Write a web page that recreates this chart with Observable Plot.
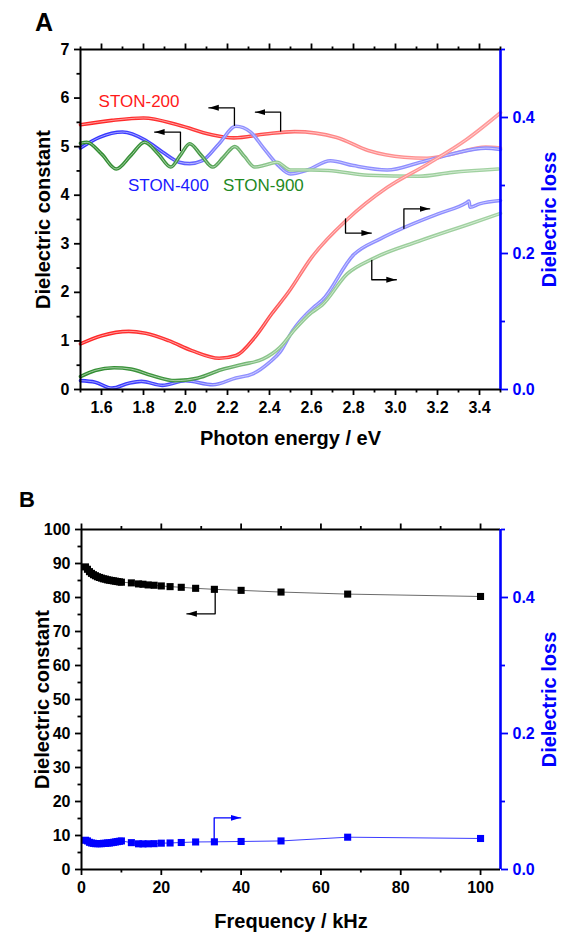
<!DOCTYPE html>
<html>
<head>
<meta charset="utf-8">
<script src="https://cdn.jsdelivr.net/npm/d3@7"></script>
<script src="https://cdn.jsdelivr.net/npm/@observablehq/plot@0.6"></script>
<style>
  body { margin: 0; background: #fff; font-family: Arial, "Liberation Sans", sans-serif; }
  #wrap { position: relative; width: 564px; height: 933px; overflow: hidden; }
  .panel { position: absolute; left: 0; }
  .panel svg { display: block; }
  .panel svg g[aria-label$="tick label"], .panel svg g[aria-label$="tick label"] text {
    font-size: 16px !important; font-weight: bold !important;
    font-family: Arial, "Liberation Sans", sans-serif !important;
  }
  .plabel { position: absolute; font-weight: bold; color: #000; line-height: 1; font-family: Arial, "Liberation Sans", sans-serif; }
</style>
</head>
<body>
<div id="wrap">
  <div id="pa" class="panel" style="top:0px"></div>
  <div id="pb" class="panel" style="top:465px"></div>
  <div class="plabel" style="left:35px;top:10px;font-size:25px">A</div>
  <div class="plabel" style="left:19px;top:489px;font-size:22px">B</div>
</div>
<script>
// ================= Panel A data (photon energy, eV) =================
// Dielectric constant (left axis)
const eConstR = [1.50,1.65,1.80,1.97,2.12,2.23,2.38,2.52,2.72,2.87,3.04,3.15,3.27,3.43,3.50];
const constR  = [5.45,5.54,5.59,5.44,5.25,5.18,5.26,5.31,5.19,4.92,4.78,4.76,4.85,4.99,4.97];
const eConstB = [1.50,1.59,1.70,1.81,1.89,1.97,2.02,2.08,2.16,2.24,2.31,2.37,2.44,2.50,2.58,2.69,2.80,2.96,3.12,3.27,3.43,3.50];
const constB  = [4.97,5.19,5.30,5.13,4.89,4.68,4.65,4.71,5.06,5.42,5.30,4.98,4.62,4.44,4.52,4.71,4.61,4.52,4.68,4.85,4.97,4.94];
const eConstG = [1.50,1.53,1.60,1.67,1.74,1.805,1.87,1.93,1.975,2.02,2.075,2.13,2.18,2.235,2.28,2.33,2.38,2.435,2.50,2.60,2.68,2.87,3.11,3.27,3.49];
const constG  = [5.07,5.09,4.85,4.54,4.82,5.09,4.85,4.58,4.82,5.06,4.82,4.58,4.78,5.00,4.80,4.58,4.62,4.68,4.52,4.52,4.51,4.41,4.39,4.47,4.54];
// Dielectric loss (right axis)
const eLossR = [1.50,1.60,1.73,1.81,1.92,2.03,2.16,2.24,2.33,2.41,2.49,2.60,2.77,2.96,3.15,3.34,3.50];
const lossR  = [0.067,0.079,0.0855,0.0826,0.0718,0.0572,0.0459,0.0499,0.0767,0.111,0.143,0.194,0.250,0.297,0.331,0.368,0.407];
const eLossB = [1.50,1.57,1.65,1.73,1.79,1.89,2.00,2.13,2.24,2.32,2.40,2.45,2.51,2.61,2.65,2.80,2.93,3.04,3.20,3.34,3.35,3.355,3.40,3.50];
const lossB  = [0.013,0.0107,0.002,0.0093,0.012,0.006,0.013,0.007,0.017,0.023,0.040,0.055,0.0865,0.121,0.131,0.198,0.222,0.238,0.258,0.275,0.277,0.268,0.273,0.278];
const eLossG = [1.50,1.57,1.66,1.74,1.84,1.95,2.06,2.17,2.27,2.37,2.45,2.52,2.60,2.65,2.77,2.89,3.11,3.35,3.50];
const lossG  = [0.019,0.028,0.032,0.030,0.0205,0.013,0.017,0.029,0.0367,0.045,0.062,0.088,0.113,0.124,0.170,0.192,0.218,0.243,0.259];

const seriesNamesA = ["STON-200","STON-400","STON-900"];
const labelXA = [1.586, 1.726, 2.178];
const labelYA = [5.92, 4.20, 4.20];

// annotation arrows (energy, dielectric-constant units)
const arrowA1 = [[1.976,4.92],[1.976,5.30],[1.853,5.30]];
const arrowA2 = [[2.233,5.44],[2.233,5.80],[2.111,5.80]];
const arrowA3 = [[2.453,5.32],[2.453,5.71],[2.333,5.71]];
const arrowA4 = [[2.762,3.51],[2.762,3.22],[2.885,3.22]];
const arrowA5 = [[3.040,3.32],[3.040,3.72],[3.163,3.72]];
const arrowA6 = [[2.887,2.66],[2.887,2.26],[3.004,2.26]];

// ticks A
const xTicksA = [1.6,1.8,2.0,2.2,2.4,2.6,2.8,3.0,3.2,3.4];
const xMinorA = [1.5,1.7,1.9,2.1,2.3,2.5,2.7,2.9,3.1,3.3,3.5];
const yTicksA = [0,1,2,3,4,5,6,7];
const yMinorA = [0.5,1.5,2.5,3.5,4.5,5.5,6.5];
const lossTicksA = [0.0,0.2,0.4];
const lossMinorA = [0.1,0.3,0.5];

// ================= Panel B data (frequency, kHz) =================
const freqB = [1,1.5,2,2.5,3,3.5,4,4.5,5,5.5,6,6.5,7,7.5,8,8.5,9,9.5,10,12.5,14.3,15.4,16.7,18.2,20,22.2,25,28.6,33.3,40,50,66.7,100];
const constFB = [89.0,88.3,87.6,87.1,86.7,86.4,86.1,85.9,85.7,85.5,85.4,85.2,85.1,85.0,84.9,84.8,84.7,84.6,84.5,84.3,84.0,83.9,83.7,83.6,83.4,83.2,83.0,82.7,82.4,82.1,81.6,81.0,80.3];
const lossFB  = [0.043,0.042,0.040,0.039,0.0385,0.038,0.038,0.038,0.038,0.0385,0.0385,0.039,0.039,0.0395,0.040,0.0405,0.041,0.0415,0.042,0.0395,0.0378,0.0377,0.0378,0.038,0.0387,0.039,0.0397,0.0405,0.0407,0.0412,0.042,0.0475,0.0456];

const arrowB1 = [[33.5,82.1],[33.5,75.2],[26.4,75.2]];
const arrowB2 = [[33.25,8.2],[33.25,15.2],[39.9,15.2]];

const xTicksB = [0,20,40,60,80,100];
const xMinorB = [10,30,50,70,90];
const yTicksB = [0,10,20,30,40,50,60,70,80,90,100];
const yMinorB = [5,15,25,35,45,55,65,75,85,95];
const lossTicksB = [0.0,0.2,0.4];
const lossMinorB = [0.1,0.3,0.5];

// ================= helpers =================
const FONT = 'Arial, "Liberation Sans", sans-serif';
const K_A = 7 / 0.5;     // loss -> left axis units (panel A)
const K_B = 100 / 0.5;   // loss -> left axis units (panel B)
const toRows = (xs, ys, k = 1) => xs.map((x, i) => ({x, y: ys[i] * k}));
const arrowRows = (pts, id) => pts.map(([x, y]) => ({x, y, id}));

function arrowHead(color, context) {
  const doc = (context && context.document) || document;
  const ns = "http://www.w3.org/2000/svg";
  const m = doc.createElementNS(ns, "marker");
  m.setAttribute("viewBox", "-10 -4 10 8");
  m.setAttribute("markerWidth", 10);
  m.setAttribute("markerHeight", 8);
  m.setAttribute("refX", 0);
  m.setAttribute("refY", 0);
  m.setAttribute("orient", "auto");
  m.setAttribute("markerUnits", "userSpaceOnUse");
  const p = doc.createElementNS(ns, "path");
  p.setAttribute("d", "M-10,-3L0,0L-10,3Z");
  p.setAttribute("fill", color);
  p.setAttribute("stroke", "none");
  m.appendChild(p);
  return m;
}

const gradients = [
  {id: "gradR", stops: [[0, "#ff2424"], [0.4, "#ff3c3c"], [0.56, "#ff8484"], [1, "#ff9c9c"]]},
  {id: "gradB", stops: [[0, "#2f2fff"], [0.2, "#4646ff"], [0.36, "#9090ff"], [1, "#8c8cff"]]},
  {id: "gradG", stops: [[0, "#2e8b2e"], [0.28, "#479a47"], [0.46, "#92c992"], [1, "#a2d2a2"]]}
];
function gradientDefs() {
  const defs = d3.create("svg:defs");
  for (const g of gradients) {
    const lg = defs.append("linearGradient").attr("id", g.id);
    for (const [o, c] of g.stops) lg.append("stop").attr("offset", o).attr("stop-color", c);
  }
  return defs.node();
}

function bandLine(rows, grad) {
  return [
    Plot.line(rows, {x: "x", y: "y", stroke: `url(#${grad})`, strokeWidth: 3.6, curve: "monotone-x"}),
    Plot.line(rows, {x: "x", y: "y", stroke: "white", strokeWidth: 1, strokeOpacity: 0.55, curve: "monotone-x"})
  ];
}

const axisCommon = {label: null, strokeWidth: 1.8, fontSize: 16, fontWeight: "bold"};
const blank = () => "";
const titleOpts = {text: d => d, fontSize: 20, fontWeight: "bold", textAnchor: "middle", lineAnchor: "middle"};

// ================= Panel A =================
const curvesA = [
  [toRows(eConstR, constR), "gradR"],
  [toRows(eConstB, constB), "gradB"],
  [toRows(eConstG, constG), "gradG"],
  [toRows(eLossR, lossR, K_A), "gradR"],
  [toRows(eLossB, lossB, K_A), "gradB"],
  [toRows(eLossG, lossG, K_A), "gradG"]
];
const arrowsA = [arrowA1, arrowA2, arrowA3, arrowA4, arrowA5, arrowA6].flatMap((a, i) => arrowRows(a, "a" + i));
const labelColorsA = ["#ff1a1a", "#1a1aff", "#1f8a1f"];

const chartA = Plot.plot({
  width: 564, height: 465,
  marginTop: 49, marginBottom: 76, marginLeft: 80, marginRight: 64,
  x: {domain: [1.5, 3.5]},
  y: {domain: [0, 7]},
  style: {fontFamily: FONT, fontSize: "16px", fontWeight: "bold", background: "white", overflow: "visible"},
  marks: [
    gradientDefs,
    ...curvesA.flatMap(([rows, g]) => bandLine(rows, g)),
    Plot.line(arrowsA, {x: "x", y: "y", z: "id", stroke: "black", strokeWidth: 1.3, markerEnd: arrowHead}),
    ...seriesNamesA.map((name, i) => Plot.text([name], {
      x: () => labelXA[i], y: () => labelYA[i], text: d => d, textAnchor: "start",
      fill: labelColorsA[i], fontSize: 17, fontWeight: "normal"
    })),
    // axis lines
    Plot.ruleX([1.5], {stroke: "black", strokeWidth: 2}),
    Plot.ruleY([0], {stroke: "black", strokeWidth: 2}),
    Plot.ruleY([7], {stroke: "black", strokeWidth: 2}),
    Plot.ruleX([3.5], {stroke: "blue", strokeWidth: 2.6}),
    // axes
    Plot.axisX({...axisCommon, anchor: "bottom", ticks: xTicksA, tickFormat: d => d.toFixed(1), tickSize: 6, tickPadding: 6}),
    Plot.axisX({...axisCommon, anchor: "bottom", ticks: xMinorA, tickFormat: blank, tickSize: 3.5}),
    Plot.axisX({...axisCommon, anchor: "top", ticks: xTicksA, tickFormat: blank, tickSize: 6.5}),
    Plot.axisX({...axisCommon, anchor: "top", ticks: xMinorA, tickFormat: blank, tickSize: 3.5}),
    Plot.axisY({...axisCommon, anchor: "left", ticks: yTicksA, tickFormat: d => String(d), tickSize: 6, tickPadding: 5}),
    Plot.axisY({...axisCommon, anchor: "left", ticks: yMinorA, tickFormat: blank, tickSize: 3.5}),
    Plot.axisY({...axisCommon, anchor: "right", color: "blue", ticks: lossTicksA.map(v => v * K_A), tickFormat: d => (d / K_A).toFixed(1), tickSize: 7, tickPadding: 5}),
    Plot.axisY({...axisCommon, anchor: "right", color: "blue", ticks: lossMinorA.map(v => v * K_A), tickFormat: blank, tickSize: 4}),
    // axis titles
    Plot.text(["Dielectric constant"], {...titleOpts, frameAnchor: "left", rotate: -90, dx: -37, fill: "black"}),
    Plot.text(["Photon energy / eV"], {...titleOpts, frameAnchor: "bottom", dy: 49, fill: "black"}),
    Plot.text(["Dielectric loss"], {...titleOpts, frameAnchor: "right", rotate: -90, dx: 49, fill: "blue"})
  ]
});
document.getElementById("pa").appendChild(chartA);

// ================= Panel B =================
const rowsConstB = toRows(freqB, constFB);
const rowsLossB = toRows(freqB, lossFB, K_B);

const chartB = Plot.plot({
  width: 564, height: 468,
  marginTop: 64, marginBottom: 64, marginLeft: 81, marginRight: 64,
  x: {domain: [0, 105]},
  y: {domain: [0, 100]},
  style: {fontFamily: FONT, fontSize: "16px", fontWeight: "bold", background: "white", overflow: "visible"},
  marks: [
    Plot.line(rowsConstB, {x: "x", y: "y", stroke: "#5a5a5a", strokeWidth: 0.9}),
    Plot.line(rowsLossB, {x: "x", y: "y", stroke: "#3c3cff", strokeWidth: 1}),
    Plot.dot(rowsConstB, {x: "x", y: "y", symbol: "square", r: 4, fill: "black", stroke: "none"}),
    Plot.dot(rowsLossB, {x: "x", y: "y", symbol: "square", r: 4, fill: "#0000ff", stroke: "none"}),
    Plot.line(arrowRows(arrowB1, "b1"), {x: "x", y: "y", stroke: "black", strokeWidth: 1.3, markerEnd: arrowHead}),
    Plot.line(arrowRows(arrowB2, "b2"), {x: "x", y: "y", stroke: "#0000ff", strokeWidth: 1.3, markerEnd: arrowHead}),
    Plot.ruleX([0], {stroke: "black", strokeWidth: 2}),
    Plot.ruleY([0], {stroke: "black", strokeWidth: 2}),
    Plot.ruleY([100], {stroke: "black", strokeWidth: 2}),
    Plot.ruleX([105], {stroke: "blue", strokeWidth: 2.6}),
    Plot.axisX({...axisCommon, anchor: "bottom", ticks: xTicksB, tickFormat: d => String(d), tickSize: 6, tickPadding: 6}),
    Plot.axisX({...axisCommon, anchor: "bottom", ticks: xMinorB, tickFormat: blank, tickSize: 3.5}),
    Plot.axisX({...axisCommon, anchor: "top", ticks: xTicksB, tickFormat: blank, tickSize: 6.5}),
    Plot.axisX({...axisCommon, anchor: "top", ticks: xMinorB, tickFormat: blank, tickSize: 4}),
    Plot.axisY({...axisCommon, anchor: "left", ticks: yTicksB, tickFormat: d => String(d), tickSize: 6, tickPadding: 5}),
    Plot.axisY({...axisCommon, anchor: "left", ticks: yMinorB, tickFormat: blank, tickSize: 3.5}),
    Plot.axisY({...axisCommon, anchor: "right", color: "blue", ticks: lossTicksB.map(v => v * K_B), tickFormat: d => (d / K_B).toFixed(1), tickSize: 7, tickPadding: 5}),
    Plot.axisY({...axisCommon, anchor: "right", color: "blue", ticks: lossMinorB.map(v => v * K_B), tickFormat: blank, tickSize: 4}),
    Plot.text(["Dielectric constant"], {...titleOpts, frameAnchor: "left", rotate: -90, dx: -39, fill: "black"}),
    Plot.text(["Frequency / kHz"], {...titleOpts, frameAnchor: "bottom", dy: 52, fill: "black"}),
    Plot.text(["Dielectric loss"], {...titleOpts, frameAnchor: "right", rotate: -90, dx: 49, fill: "blue"})
  ]
});
document.getElementById("pb").appendChild(chartB);
</script>
</body>
</html>
